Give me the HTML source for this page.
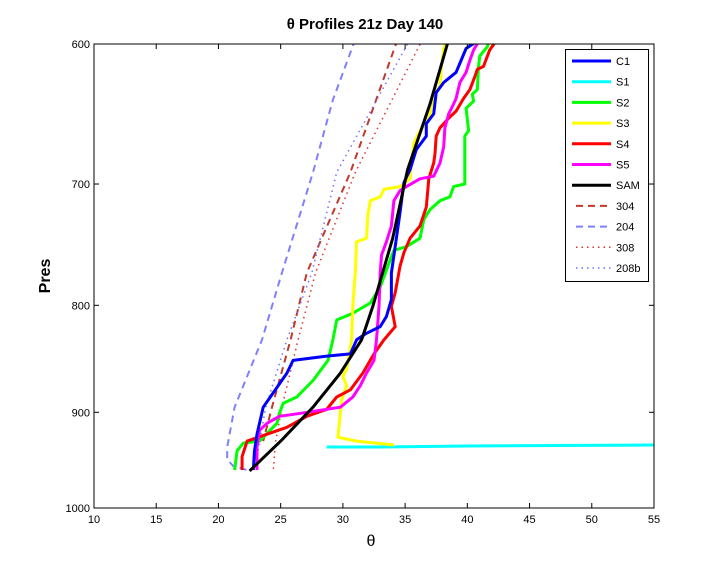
<!DOCTYPE html>
<html><head><meta charset="utf-8"><style>
body{margin:0;background:#fff;}
svg{display:block;font-family:"Liberation Sans",sans-serif;}
</style></head><body>
<svg id="chart" width="721" height="570" viewBox="0 0 721 570" xmlns="http://www.w3.org/2000/svg">
<rect width="721" height="570" fill="#fff"/>
<text x="365" y="29" text-anchor="middle" font-size="15" font-weight="bold">θ Profiles 21z Day 140</text>
<text x="371" y="546" text-anchor="middle" font-size="16">θ</text>
<text transform="translate(50,276) rotate(-90)" text-anchor="middle" font-size="16" font-weight="bold">Pres</text>
<g id="series"></g>
<g id="axes"></g>
<g id="legend"></g>
</svg>
<script>
const xTicks=[10,15,20,25,30,35,40,45,50,55];
const yTicks=[600,700,800,900,1000];
const seriesNames=["C1","S1","S2","S3","S4","S5","SAM","304","204","308","208b"];
const C1=[[41.0,597],[39.9,603],[39.1,619],[38.1,626],[37.5,633],[37.3,648],[36.7,655],[36.7,664],[35.9,674],[35.4,689],[34.9,699],[34.6,722],[34.3,743],[33.9,772],[33.9,795],[33.5,810],[33.0,819],[31.9,825],[31.1,831],[30.6,844],[28.7,846],[26.0,850],[25.5,862],[24.4,881],[23.6,895],[23.1,922],[22.9,939],[22.8,959]];
const S1=[[28.7,935],[33,935],[40,934],[55,933]];
const S2=[[41.8,597],[41.6,602],[41.0,608],[40.9,615],[40.8,631],[40.4,634],[40.5,639],[39.9,644],[40.1,660],[39.8,664],[39.8,700],[38.9,702],[38.6,710],[37.8,713],[37.0,720],[36.5,728],[36.2,743],[35.1,750],[34.1,753],[33.8,761],[33.0,784],[32.2,798],[30.8,807],[29.5,813],[29.2,831],[28.8,850],[27.6,869],[26.3,885],[25.2,891],[24.9,901],[24.7,911],[23.3,929],[22.0,931],[21.5,939],[21.3,959]];
const S3=[[38.3,597],[38.1,603],[37.9,617],[37.8,628],[37.3,635],[37.0,648],[36.7,655],[36.2,660],[35.7,669],[35.4,696],[34.6,702],[33.3,704],[33.0,710],[32.2,713],[32.0,725],[31.9,743],[31.1,746],[31.0,772],[30.8,801],[30.7,831],[30.3,858],[30.0,865],[30.3,874],[29.9,888],[29.6,925],[31.1,929],[34.1,933]];
const S4=[[42.4,597],[41.8,604],[41.3,615],[40.8,617],[40.6,622],[40.2,631],[39.7,637],[39.1,646],[38.5,651],[37.8,658],[37.5,664],[37.4,677],[37.3,684],[36.9,696],[36.7,718],[36.2,733],[35.4,743],[34.9,755],[34.6,766],[34.2,789],[33.9,801],[34.2,819],[33.3,831],[32.5,844],[31.6,862],[30.6,878],[29.5,885],[28.7,897],[27.1,904],[25.5,915],[23.9,922],[22.3,929],[21.9,945],[21.9,959]];
const S5=[[41.0,597],[40.5,604],[40.2,611],[39.9,619],[39.4,626],[39.1,637],[38.9,641],[38.5,648],[38.2,658],[38.1,672],[37.8,684],[37.3,694],[36.2,696],[35.1,702],[34.6,705],[34.1,713],[33.9,733],[33.5,746],[33.1,757],[33.0,772],[32.9,801],[32.7,831],[32.5,850],[31.9,862],[31.4,874],[30.8,885],[29.8,895],[26.6,901],[24.9,904],[23.9,911],[23.3,918],[23.1,935],[23.1,959]];
const SAM=[[38.5,597],[37.0,641],[35.2,689],[34.0,743],[32.4,801],[31.5,831],[29.8,862],[27.6,895],[25.0,929],[22.5,960]];
const D304=[[34.4,597],[30.6,691],[27.1,772],[25.8,831],[24.3,895],[23.6,929]];
const D204=[[31.0,597],[29.2,638],[27.6,691],[25.1,772],[23.5,831],[21.3,895],[20.7,935],[20.7,948],[21.2,955],[22.3,959]];
const D308=[[36.4,597],[31.0,691],[27.8,772],[26.4,831],[25.1,895],[24.6,929],[24.4,960]];
const D208b=[[35.4,597],[29.5,691],[27.5,772],[25.5,831],[23.8,895],[23.1,945]];

const L=94,R=654,T=44,B=508;
function xs(t){return L+(t-10)/(55-10)*(R-L);}
function ys(p){return T+(Math.log(p)-Math.log(600))/(Math.log(1000)-Math.log(600))*(B-T);}
const NS="http://www.w3.org/2000/svg";
function mk(tag,attrs,parent){const e=document.createElementNS(NS,tag);for(const k in attrs)e.setAttribute(k,attrs[k]);parent.appendChild(e);return e;}
const styles=[
 {c:"#0000ff",w:3,d:""},{c:"#00ffff",w:3,d:""},{c:"#00ff00",w:3,d:""},{c:"#ffff00",w:3,d:""},
 {c:"#ff0000",w:3,d:""},{c:"#ff00ff",w:3,d:""},{c:"#000000",w:3,d:""},
 {c:"#c0392b",w:2,d:"7,5"},{c:"#8080ff",w:2,d:"7,5"},{c:"#e03030",w:1.5,d:"1.5,4"},{c:"#7070ff",w:1.5,d:"1.5,4"}];
const allData=[C1,S1,S2,S3,S4,S5,SAM,D304,D204,D308,D208b];
const sg=document.getElementById('series');
const clip=mk('clipPath',{id:'pc'},document.getElementById('chart'));
mk('rect',{x:L,y:T,width:R-L,height:B-T},clip);
sg.setAttribute('clip-path','url(#pc)');
const order=[8,7,10,9,1,2,3,4,5,0,6];
order.forEach(i=>{
 const pts=allData[i].map(p=>xs(p[0]).toFixed(1)+","+ys(p[1]).toFixed(1)).join(" ");
 const pl=mk('polyline',{points:pts,fill:"none",stroke:styles[i].c,"stroke-width":styles[i].w,"stroke-dasharray":styles[i].d,"stroke-linejoin":"round"},sg);
 
 
});
const ax=document.getElementById('axes');
const frame=mk('rect',{x:L,y:T,width:R-L,height:B-T,fill:"none",stroke:"#000","stroke-width":1},ax);


xTicks.forEach(t=>{
 const x=xs(t);
 mk('line',{x1:x,y1:B,x2:x,y2:B-5,stroke:"#000"},ax);
 mk('line',{x1:x,y1:T,x2:x,y2:T+5,stroke:"#000"},ax);
 const tx=mk('text',{x:x,y:B+15,"text-anchor":"middle","font-size":11},ax);
 tx.textContent=t;
 
 
});
yTicks.forEach(t=>{
 const y=ys(t);
 mk('line',{x1:L,y1:y,x2:L+5,y2:y,stroke:"#000"},ax);
 mk('line',{x1:R,y1:y,x2:R-5,y2:y,stroke:"#000"},ax);
 const tx=mk('text',{x:L-4,y:y+4,"text-anchor":"end","font-size":11},ax);
 tx.textContent=t;
 
 
});
const lg=document.getElementById('legend');


mk('rect',{x:565.5,y:49.5,width:83,height:232,fill:"#fff",stroke:"#000"},lg);
seriesNames.forEach((n,i)=>{
 const y=61+i*20.7;
 const g=mk('g',{},lg);
 
 
 const dashed=i>=7;
 mk('line',{x1:dashed?576:572,y1:y,x2:611,y2:y,stroke:styles[i].c,"stroke-width":styles[i].w,"stroke-dasharray":styles[i].d},g);
 const t=mk('text',{x:616,y:y+4,"font-size":11},g);
 t.textContent=n;
});
</script>
</body></html>
